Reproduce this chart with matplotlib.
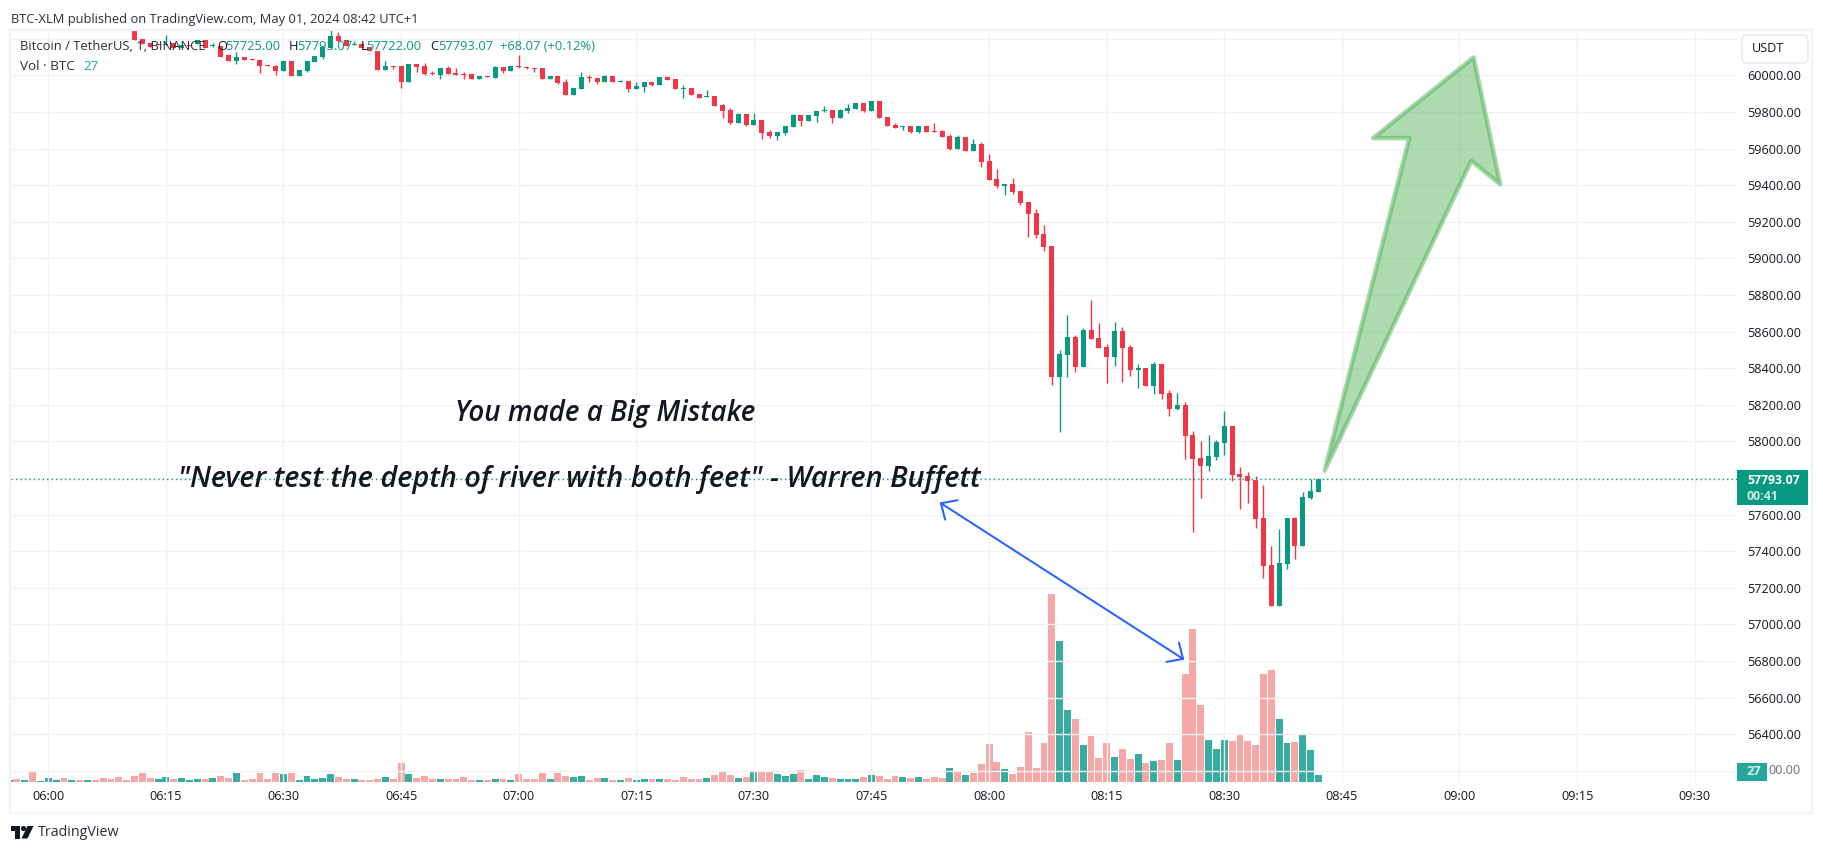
import numpy as np
import matplotlib
matplotlib.use("Agg")
import matplotlib.pyplot as plt
from matplotlib.patches import Rectangle, Polygon, FancyBboxPatch, FancyArrowPatch, Circle
from matplotlib.transforms import Affine2D

# ---------- data (minutes after 06:00) ----------
first_candle = 11
opens = [60263,60198,60176,60171,60165,60174,60149,60165,60171,
 60192,60160,60160,60110,60078,60100,60089,60083,60054,60050,
 60023,60078,59996,60023,60072,60100,60149,60215,60193,60165,
 60171,60154,60133,60029,60051,60051,59963,60062,60051,60012,
 60002,60040,60012,60007,60007,59980,59996,59985,60045,60023,
 60051,60045,60040,60040,59980,59996,59963,59892,59925,59991,
 59985,59963,59996,59963,59969,59925,59936,59963,59947,59991,
 59980,59925,59930,59898,59881,59887,59838,59810,59739,59789,
 59728,59756,59690,59668,59685,59717,59783,59750,59778,59805,
 59810,59767,59805,59816,59849,59805,59860,59772,59728,59717,
 59723,59690,59723,59696,59696,59668,59597,59663,59586,59625,
 59532,59433,59395,59406,59368,59308,59248,59133,59068,58352,
 58472,58570,58407,58609,58565,58516,58461,58603,58516,58390,
 58401,58303,58423,58265,58177,58199,58035,57909,57866,57915,
 57991,58084,57822,57811,57789,57582,57325,57101,57330,57582,
 57429,57691,57722]
closes = [60192,60171,60154,60165,60171,60149,60165,60160,60192,
 60149,60165,60100,60078,60100,60083,60083,60050,60049,60023,
 60078,59996,60029,60078,60105,60154,60215,60187,60160,60171,
 60149,60133,60029,60051,60045,59963,60062,60045,60007,60007,
 60040,60007,60002,60002,59980,59996,59991,60045,60023,60051,
 60045,60040,60034,59980,59996,59958,59892,59930,59991,59985,
 59963,59996,59963,59969,59925,59941,59963,59947,59991,59974,
 59925,59930,59892,59876,59887,59832,59805,59739,59789,59728,
 59756,59685,59668,59690,59723,59783,59750,59783,59805,59810,
 59767,59810,59821,59849,59805,59860,59767,59723,59712,59723,
 59690,59723,59690,59690,59663,59597,59663,59586,59625,59526,
 59428,59395,59406,59362,59302,59242,59127,59062,58352,58478,
 58570,58407,58609,58560,58510,58461,58603,58510,58390,58401,
 58303,58423,58259,58177,58199,58030,57904,57866,57920,57997,
 58084,57817,57806,57784,57576,57319,57101,57336,57582,57429,
 57696,57729,57793.07]
highs = [60263,60198,60176,60171,60218,60174,60165,60165,60192,
 60192,60176,60160,60110,60127,60100,60089,60083,60054,60056,
 60078,60078,60029,60078,60105,60154,60247,60236,60193,60187,
 60171,60154,60133,60078,60051,60051,60062,60062,60067,60023,
 60040,60051,60040,60018,60007,59996,59996,60051,60045,60051,
 60111,60045,60040,60040,59996,59996,59980,59930,60018,60002,
 59985,60002,59996,59974,59969,59963,59963,59963,59991,59991,
 59980,59947,59930,59898,59920,59887,59843,59821,59794,59789,
 59794,59756,59701,59690,59723,59788,59783,59783,59805,59832,
 59810,59816,59843,59849,59849,59860,59860,59772,59739,59723,
 59723,59723,59723,59739,59701,59679,59674,59663,59652,59636,
 59570,59488,59406,59439,59368,59308,59270,59182,59068,58499,
 58691,58581,58620,58773,58647,58532,58652,58625,58527,58423,
 58401,58434,58423,58281,58265,58215,58057,58002,58035,58008,
 58166,58084,57860,57833,57811,57762,57429,57522,57582,57587,
 57724,57793,57793.07]
lows = [60192,60171,60154,60165,60165,60149,60149,60160,60171,
 60149,60152,60100,60078,60061,60083,60083,60012,60049,60001,
 60023,59996,59996,60018,60072,60089,60149,60182,60160,60165,
 60149,60133,60029,60029,60034,59930,59963,60018,60002,60002,
 59980,60007,60002,59980,59980,59980,59991,59985,60012,60023,
 60040,60034,60018,59980,59980,59952,59892,59892,59925,59963,
 59952,59963,59963,59963,59909,59925,59909,59941,59947,59974,
 59925,59876,59892,59876,59881,59832,59767,59734,59739,59723,
 59728,59652,59657,59646,59674,59717,59723,59750,59745,59799,
 59739,59767,59794,59816,59799,59805,59767,59723,59712,59701,
 59685,59685,59690,59690,59663,59592,59597,59586,59586,59499,
 59428,59384,59346,59351,59291,59117,59111,59040,58308,58051,
 58352,58379,58407,58560,58510,58319,58412,58325,58357,58292,
 58303,58259,58232,58139,58172,57904,57505,57691,57838,57899,
 57926,57784,57631,57664,57527,57254,57101,57101,57303,57358,
 57429,57685,57722]

first_volume = -5
volumes = [7,12,7,43,3,
 16,7,16,7,7,7,7,16,12,21,
 7,25,34,16,12,21,12,16,7,12,
 12,16,25,16,34,7,12,34,12,34,
 30,34,7,25,12,16,30,21,12,12,
 7,7,12,21,12,74,30,16,25,12,
 12,12,12,21,7,7,7,12,12,7,
 30,12,12,34,12,34,25,21,25,8,
 15,15,8,8,15,8,12,12,12,12,
 8,19,12,12,15,27,42,27,15,19,
 39,39,39,31,23,31,46,12,27,19,
 15,12,12,12,19,27,23,12,23,19,
 15,19,12,19,15,54,42,27,35,69,
 147,77,50,31,58,193,54,151,726,544,
 278,243,143,178,93,151,97,127,89,108,
 73,81,85,151,85,417,591,297,162,127,
 162,158,185,158,143,417,432,243,151,154,
 181,124,27]
volume_dirs = ("grgrg" "ggrgrgrrrr" "rrrrggrggg" "rgrrgrrrrr" "grgggggrrg"
               "rrrgrrgrrr" "grrrrgrgrg" "rrrrgrrggr" "rgrgrggrgr" "rrrrgrrrgr"
               "grrgggrggg" "rgggrgrrrg" "rgrrrgrgrr" "rrgrrrrrrg" "grgrrrgrrg"
               "rgrrgrrrgg" "grrrrrrggr" "ggg")

last_price = 57793.07
last_volume = 27
price_ticks = [60000, 59800, 59600, 59400, 59200, 59000, 58800, 58600, 58400, 58200,
               58000, 57800, 57600, 57400, 57200, 57000, 56800, 56600, 56400]
grid_prices = [60200] + price_ticks + [56200]
time_ticks = [0, 15, 30, 45, 60, 75, 90, 105, 120, 135, 150, 165, 180, 195, 210]
time_labels = ["06:00", "06:15", "06:30", "06:45", "07:00", "07:15", "07:30", "07:45",
               "08:00", "08:15", "08:30", "08:45", "09:00", "09:15", "09:30"]

# drawings on the chart, anchored as (minute, price)
blue_arrow_minutes = [113.7, 144.9]
blue_arrow_prices = [57666, 56807]
green_arrow_minutes = [162.8, 173.6, 169.0, 181.8, 185.2, 181.5]
green_arrow_prices = [57840, 59657, 59657, 60098, 59404, 59533]

UP = "#089981"
DOWN = "#F23645"
VOL_UP = "#26a69a"
VOL_DOWN = "#ef5350"
GRID = "#f0f1f5"
BORDER = "#f0f3fa"
INK = "#131722"
FONT = "Open Sans"
plt.rcParams["font.family"] = [FONT, "DejaVu Sans"]

W, H = 1824, 852
PANE_L, PANE_R, PANE_T, PANE_B = 11, 1737, 30.5, 782
fig = plt.figure(figsize=(W / 100, H / 100), dpi=100, facecolor="white")
PX = Affine2D().scale(1 / W, -1 / H).translate(0, 1) + fig.transFigure
rect = [PANE_L / W, 1 - PANE_B / H, (PANE_R - PANE_L) / W, (PANE_B - PANE_T) / H]

ax_v = fig.add_axes(rect, facecolor="white")
ax = ax_v.twinx()
ax_v.set_zorder(1)
ax.set_zorder(2)
ax.patch.set_visible(False)

# scales
MIN_PX = 7.84
USD_PX = 5.464
ax.set_xlim((PANE_L - 48.3) / MIN_PX, (PANE_R - 48.3) / MIN_PX)
ax.set_ylim(60000 - (PANE_B - 75.3) * USD_PX, 60000 + (75.3 - PANE_T) * USD_PX)
ax_v.set_xlim(ax.get_xlim())
ax_v.set_ylim(0, (PANE_B - PANE_T) * 3.86)

# grid
ax_v.set_axisbelow(True)
for p in grid_prices:
    ax.axhline(p, color=GRID, lw=1.0, zorder=0)
for t in time_ticks:
    ax.axvline(t, color=GRID, lw=1.0, zorder=0)

# volume
vol_x = np.arange(len(volumes)) + first_volume
for x, v, d in zip(vol_x, volumes, volume_dirs):
    if d == "g":
        ax_v.bar(x, v, width=0.88, color=VOL_UP, alpha=0.92, linewidth=0, zorder=2)
    else:
        ax_v.bar(x, v, width=0.88, color=VOL_DOWN, alpha=0.5, linewidth=0, zorder=2)

# candles
x = np.arange(len(opens)) + first_candle
o, c, h, l = map(np.array, (opens, closes, highs, lows))
cols = [UP if cc >= oo else DOWN for oo, cc in zip(o, c)]
ax.vlines(x, l, h, colors=cols, lw=1.0, zorder=3)
ax.bar(x, np.abs(c - o), bottom=np.minimum(o, c), width=0.64, color=cols, linewidth=0, zorder=4)

# last-price line
ax.axhline(last_price, color=UP, lw=1.0, ls=(0, (1, 2.2)), zorder=3)

# drawings
ax.add_patch(Polygon(np.column_stack([green_arrow_minutes, green_arrow_prices]), closed=True,
                     facecolor=(0.298, 0.686, 0.314, 0.45), edgecolor=(0.298, 0.686, 0.314, 0.5),
                     lw=3.2, joinstyle="round", zorder=5))
ax.add_patch(FancyArrowPatch((blue_arrow_minutes[0], blue_arrow_prices[0]),
                             (blue_arrow_minutes[1], blue_arrow_prices[1]),
                             arrowstyle="<->,head_length=8.9,head_width=8.3", mutation_scale=1,
                             color="#2962ff", lw=1.45, shrinkA=0, shrinkB=0, zorder=5))

# axes ticks
for a in (ax, ax_v):
    for s in a.spines.values():
        s.set_visible(False)
ax_v.set_yticks([])
ax.yaxis.tick_right()
ax.set_yticks(price_ticks)
ax.set_yticklabels([f"{p:.2f}" for p in price_ticks], fontsize=9.1, color=INK)
ax.tick_params(axis="y", length=0, pad=7.6)
ax_v.set_xticks(time_ticks)
ax_v.set_xticklabels(time_labels, fontsize=9.1, color=INK)
ax_v.tick_params(axis="x", length=0, pad=6.0)
ax.tick_params(axis="x", bottom=False, labelbottom=False)


def text(px, py, s, **kw):
    kw.setdefault("fontsize", 9.1)
    kw.setdefault("color", INK)
    kw.setdefault("va", "center")
    kw.setdefault("zorder", 20)
    return fig.text(px, py, s, transform=PX, **kw)


def fpatch(p):
    p.set_transform(PX)
    p.set_zorder(p.get_zorder() if p.get_zorder() > 10 else 15)
    fig.add_artist(p)


# outer border
fpatch(Rectangle((10.5, 29.5), 1802, 783, fill=False, edgecolor=BORDER, lw=1.6))

# price tag and volume tag
fpatch(Rectangle((1737, 470), 70.7, 35, facecolor=UP, edgecolor="none"))
text(1747, 480, f"{last_price:.2f}", color="white", fontweight="bold", fontsize=8.8)
text(1747, 496, "00:41", color="#cfe9e4", fontweight="bold", fontsize=8.8)
fpatch(Rectangle((1737, 762.7), 30, 18, facecolor=VOL_UP, edgecolor="none"))
text(1747, 771.5, str(last_volume), color="#d6f0ec", fontweight="bold", fontsize=9.3)
# the volume tag hides the front of the lowest price label
text(1768, 770.5, "00.00", fontsize=9.1, color="#6a6d78")

# USDT button
fpatch(FancyBboxPatch((1744, 37), 62, 24, boxstyle="round,pad=2,rounding_size=5",
                      facecolor="white", edgecolor="#e6e8f0", lw=1.0))
text(1752, 49, "USDT", fontsize=9.1)

# annotations
QUOTE = dict(family="Open Sans", style="italic", fontweight="semibold", color="#131722")
text(455, 413, "You made a Big Mistake", fontsize=20.0, **QUOTE)
text(178, 479, "\"Never test the depth of river with both feet\" - Warren Buffett", fontsize=20.7, **QUOTE)

# header
text(11, 20, "BTC-XLM published on TradingView.com, May 01, 2024 08:42 UTC+1", fontsize=9.3, color="#2a2e39")

# legend
text(20, 47, "Bitcoin / TetherUS, 1, BINANCE", fontsize=9.4, color="#2a2e39")
for px_, s, col in [(217, "O", INK), (225, "57725.00", UP), (289, "H", INK), (297, "57793.07", UP),
                    (361, "L", INK), (366, "57722.00", UP), (430, "C", INK), (438, "57793.07", UP),
                    (500, "+68.07 (+0.12%)", UP)]:
    text(px_, 47, s, fontsize=9.3, color=col)
text(20, 66, "Vol · BTC", fontsize=9.7, color="#2a2e39")
text(83, 66, str(last_volume), fontsize=9.6, color=VOL_UP)

# TradingView logo
fpatch(Polygon([(11, 826), (20, 826), (20, 838.5), (15, 838.5), (15, 831), (11, 831)], closed=True,
               facecolor="#131722", edgecolor="none"))
fpatch(Circle((23.5, 828.5), 2.6, facecolor="#131722", edgecolor="none"))
fpatch(Polygon([(27.5, 826), (33.5, 826), (27.5, 838.5), (21.5, 838.5)], closed=True,
               facecolor="#131722", edgecolor="none"))
text(38, 832, "TradingView", fontsize=10.3, color="#2a2e39")

fig.savefig("out.png", dpi=100)
